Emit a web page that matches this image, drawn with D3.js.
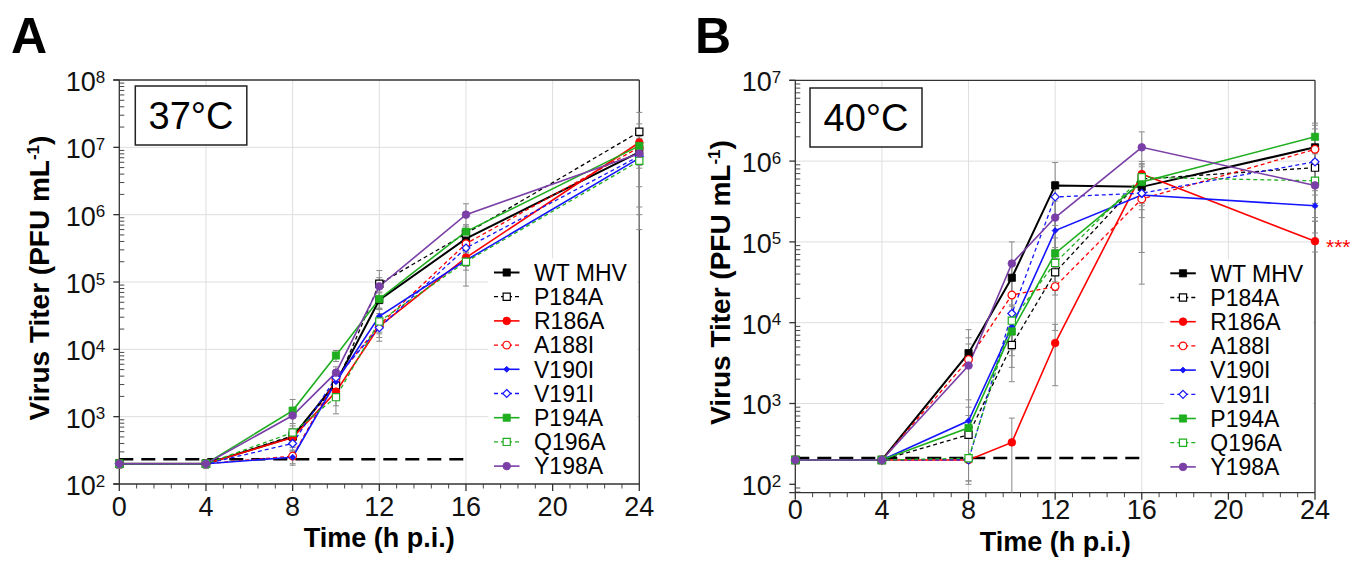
<!DOCTYPE html>
<html><head><meta charset="utf-8">
<script src="https://cdn.jsdelivr.net/npm/d3@7"></script>
<style>body{margin:0;background:#fff} text{font-family:"Liberation Sans",Arial,sans-serif}</style>
</head><body><svg id="c" width="1353" height="565"></svg>
<script>
// ---------------- DATA ----------------
const times = [0, 4, 8, 10, 12, 16, 24];
const seriesLabels = ["WT MHV","P184A","R186A","A188I","V190I","V191I","P194A","Q196A","Y198A"];
const xTicks = [0, 4, 8, 12, 16, 20, 24];
const yTicksA = [1e2, 1e3, 1e4, 1e5, 1e6, 1e7, 1e8];
const yTicksB = [1e2, 1e3, 1e4, 1e5, 1e6, 1e7];

// Panel A (37°C) – titers (PFU/mL)
const a_WT    = [200, 200, 500,  3200, 54000, 440000, 8.5e6];
const a_P184A = [200, 200, 520,  2900, 94000, 525000, 1.7e7];
const a_R186A = [200, 200, 490,  2350, 22000, 230000, 1.18e7];
const a_A188I = [200, 200, 260,  3600, 23000, 370000, 1.0e7];
const a_V190I = [200, 200, 250,  3300, 31000, 210000, 6.9e6];
const a_V191I = [200, 200, 400,  3800, 21000, 320000, 7.4e6];
const a_P194A = [200, 200, 1230, 8100, 56000, 560000, 1.05e7];
const a_Q196A = [200, 200, 580,  1950, 26000, 200000, 6.3e6];
const a_Y198A = [200, 200, 1040, 4500, 86000, 1.0e6,  8.1e6];
// Panel A standard deviations
const a_WT_sd    = [30, 30, 150, 800,  15000, 150000, 5.9e6];
const a_P184A_sd = [0, 0, 150, 1800, 54000, 150000, 1.6e7];
const a_R186A_sd = [0, 0, 100, 600,  8800,  60000,  1.05e7];
const a_A188I_sd = [0, 0, 60,  800,  6000,  100000, 3e6];
const a_V190I_sd = [0, 0, 60,  800,  8000,  60000,  2e6];
const a_V191I_sd = [0, 0, 100, 800,  6000,  80000,  2e6];
const a_P194A_sd = [0, 0, 570, 1500, 15000, 150000, 3e6];
const a_Q196A_sd = [0, 0, 150, 500,  8000,  113000, 5.7e6];
const a_Y198A_sd = [30, 30, 250, 1000, 30000, 450000, 2e6];

// Panel B (40°C) – titers (PFU/mL)
const b_WT    = [200, 200, 4200, 36000, 500000, 480000, 1.48e6];
const b_P184A = [200, 200, 410,  5300,  42000,  600000, 8.3e5];
const b_R186A = [200, 200, 200,  330,   5600,   690000, 1.02e5];
const b_A188I = [200, 200, 3500, 22000, 28000,  340000, 1.4e6];
const b_V190I = [200, 200, 610,  8900,  138000, 380000, 2.8e5];
const b_V191I = [200, 200, 200,  13000, 360000, 400000, 9.8e5];
const b_P194A = [200, 200, 500,  7800,  72000,  550000, 2.0e6];
const b_Q196A = [200, 200, 210,  10600, 55000,  630000, 5.7e5];
const b_Y198A = [200, 200, 2950, 54000, 200000, 1.48e6, 5.0e5];
// Panel B standard deviations
const b_WT_sd    = [0, 0, 4000, 20000, 460000, 200000, 1.3e6];
const b_P184A_sd = [0, 0, 300,  3440,  20000,  300000, 4e5];
const b_R186A_sd = [0, 0, 0,    330,   3940,   300000, 2.7e4];
const b_A188I_sd = [0, 0, 3000, 15000, 20000,  266000, 1.1e6];
const b_V190I_sd = [0, 0, 500,  5000,  60000,  350000, 1e5];
const b_V191I_sd = [0, 0, 0,    8000,  200000, 200000, 4e5];
const b_P194A_sd = [0, 0, 400,  5000,  40000,  300000, 9.5e5];
const b_Q196A_sd = [0, 0, 0,    6000,  30000,  300000, 3e5];
const b_Y198A_sd = [0, 0, 2500, 46000, 120000, 820000, 3e5];

const lodA = 233, lodB = 212, lodEnd = 16;

// ---------------- STYLE ----------------
const styles = [
  {color:"#000000", dash:null,  shape:"square",  fill:true,  w:2.0},
  {color:"#000000", dash:"4,3", shape:"square",  fill:false, w:1.3},
  {color:"#ff0000", dash:null,  shape:"circle",  fill:true,  w:1.6},
  {color:"#ff0000", dash:"4,3", shape:"circle",  fill:false, w:1.3},
  {color:"#1515ff", dash:null,  shape:"dot",     fill:true,  w:1.6},
  {color:"#1515ff", dash:"4,3", shape:"diamond", fill:false, w:1.3},
  {color:"#1fae1f", dash:null,  shape:"square",  fill:true,  w:1.6},
  {color:"#1fae1f", dash:"4,3", shape:"square",  fill:false, w:1.3},
  {color:"#7a3fa6", dash:null,  shape:"circle",  fill:true,  w:1.6}
];
const svg = d3.select("#c");

function markerPath(shape){
  if (shape === "square") return "M-3.6,-3.6H3.6V3.6H-3.6Z";
  if (shape === "circle") return d3.symbol(d3.symbolCircle, 46)();
  if (shape === "diamond") return "M0,-4L4,0L0,4L-4,0Z";
  return "M0,-3L3,0L0,3L-3,0Z";
}
function drawMarker(g, st, cx, cy){
  g.append("path").attr("d", markerPath(st.shape))
   .attr("transform", `translate(${cx},${cy})`)
   .attr("fill", st.fill ? st.color : "#fff")
   .attr("stroke", st.color).attr("stroke-width", st.fill ? 0.8 : 1.2);
}

function drawPanel(cfg){
  const g = svg.append("g");
  const x = d3.scaleLinear([0, 24], [cfg.x0, cfg.x1]);
  const y = d3.scaleLog(cfg.yDomain, [cfg.yBottom, cfg.yTop]);
  const yB = cfg.yBottom, yT = cfg.yTop;
  const axisColor = "#333";

  // grid
  g.selectAll(null).data(xTicks.slice(1, -1)).join("line")
    .attr("x1", d => x(d)).attr("x2", d => x(d)).attr("y1", yT).attr("y2", yB)
    .attr("stroke", "#dedede").attr("stroke-width", 1);
  g.selectAll(null).data(cfg.gridY).join("line")
    .attr("x1", cfg.x0).attr("x2", cfg.x1).attr("y1", d => y(d)).attr("y2", d => y(d))
    .attr("stroke", "#dedede").attr("stroke-width", 1);

  // frame
  g.append("line").attr("x1", cfg.x0 - 6).attr("x2", cfg.x1).attr("y1", yT).attr("y2", yT).attr("stroke", axisColor).attr("stroke-width", 1.3);
  g.append("line").attr("x1", cfg.x1).attr("x2", cfg.x1).attr("y1", yT).attr("y2", yB).attr("stroke", axisColor).attr("stroke-width", 1.3);
  g.append("line").attr("x1", cfg.x0 - 6).attr("x2", cfg.x1).attr("y1", yB).attr("y2", yB).attr("stroke", axisColor).attr("stroke-width", 1.3);
  g.append("line").attr("x1", cfg.x0).attr("x2", cfg.x0).attr("y1", yT).attr("y2", yB).attr("stroke", axisColor).attr("stroke-width", 1.3);

  // y ticks
  const lo = Math.floor(Math.log10(cfg.yDomain[0])), hi = Math.ceil(Math.log10(cfg.yDomain[1]));
  const minors = [];
  for (let d = lo; d < hi; d++) for (let k = 2; k <= 9; k++) {
    const v = k * Math.pow(10, d);
    if (v > cfg.yDomain[0] && v < cfg.yDomain[1]) minors.push(v);
  }
  g.selectAll(null).data(minors).join("line")
    .attr("x1", cfg.x0).attr("x2", cfg.x0 + 5).attr("y1", d => y(d)).attr("y2", d => y(d))
    .attr("stroke", axisColor).attr("stroke-width", 0.9);
  g.selectAll(null).data(cfg.yTicks).join("line")
    .attr("x1", cfg.x0 - 6).attr("x2", cfg.x0).attr("y1", d => y(d)).attr("y2", d => y(d))
    .attr("stroke", axisColor).attr("stroke-width", 1.3);
  cfg.yTicks.forEach(v => {
    const t = g.append("text").attr("x", cfg.x0 - 14).attr("y", y(v) + 11).attr("text-anchor", "end")
      .attr("font-size", 27).attr("fill", "#111");
    t.append("tspan").text("10");
    t.append("tspan").attr("font-size", 17).attr("dy", -8.5).text(String(Math.round(Math.log10(v))));
  });

  // x ticks
  const xMinor = d3.range(0, 24.001, 0.8).filter(v => Math.abs(v / 4 - Math.round(v / 4)) > 0.01);
  g.selectAll(null).data(xMinor).join("line")
    .attr("x1", d => x(d)).attr("x2", d => x(d)).attr("y1", yB).attr("y2", yB + 4.5)
    .attr("stroke", axisColor).attr("stroke-width", 0.9);
  g.selectAll(null).data(xTicks).join("line")
    .attr("x1", d => x(d)).attr("x2", d => x(d)).attr("y1", yB).attr("y2", yB + 7)
    .attr("stroke", axisColor).attr("stroke-width", 1.3);
  g.selectAll(null).data(xTicks).join("text")
    .attr("x", d => x(d)).attr("y", cfg.xLabelY).attr("text-anchor", "middle")
    .attr("font-size", 27).attr("fill", "#111").text(d => d);

  // LOD line
  g.append("line").attr("x1", x(0)).attr("x2", x(lodEnd)).attr("y1", y(cfg.lod)).attr("y2", y(cfg.lod))
    .attr("stroke", "#000").attr("stroke-width", 2.6).attr("stroke-dasharray", "14,8");

  // error bars
  const clampY = v => v <= cfg.yDomain[0] ? yB : y(v);
  cfg.series.forEach((s, i) => {
    s.sd.forEach((e, j) => {
      if (!e) return;
      const cx = x(times[j]);
      const yu = clampY(s.v[j] + e), yl = clampY(s.v[j] - e);
      g.append("line").attr("x1", cx).attr("x2", cx).attr("y1", yu).attr("y2", yl).attr("stroke", "#8a8a8a").attr("stroke-width", 1);
      [yu, yl].forEach(yy => { if (yy < yB - 0.5) g.append("line").attr("x1", cx - 3).attr("x2", cx + 3).attr("y1", yy).attr("y2", yy).attr("stroke", "#8a8a8a").attr("stroke-width", 1); });
    });
  });

  // series
  const line = d3.line().x((d, j) => x(times[j])).y(d => y(d));
  cfg.series.forEach((s, i) => {
    const st = styles[i];
    g.append("path").attr("d", line(s.v)).attr("fill", "none").attr("stroke", st.color)
      .attr("stroke-width", st.w).attr("stroke-dasharray", st.dash);
  });
  cfg.series.forEach((s, i) => {
    s.v.forEach((v, j) => drawMarker(g, styles[i], x(times[j]), y(v)));
  });

  // label box
  g.append("rect").attr("x", cfg.box[0]).attr("y", cfg.box[1]).attr("width", cfg.box[2]).attr("height", cfg.box[3])
    .attr("fill", "#fff").attr("stroke", "#222").attr("stroke-width", 1.5);
  g.append("text").attr("x", cfg.box[0] + cfg.box[2] / 2).attr("y", cfg.box[1] + cfg.box[3] / 2 + 13.5)
    .attr("text-anchor", "middle").attr("font-size", 38).attr("fill", "#000").text(cfg.boxText);

  // legend
  g.append("rect").attr("x", cfg.legX - 6).attr("y", cfg.legY - 14).attr("width", cfg.x1 - cfg.legX + 4)
    .attr("height", yB - cfg.legY + 13).attr("fill", "#fff");
  seriesLabels.forEach((lab, i) => {
    const st = styles[i], ly = cfg.legY + i * 24.2;
    g.append("line").attr("x1", cfg.legX).attr("x2", cfg.legX + 25.5).attr("y1", ly).attr("y2", ly)
      .attr("stroke", st.color).attr("stroke-width", st.w).attr("stroke-dasharray", st.dash);
    drawMarker(g, st, cfg.legX + 12.7, ly);
    g.append("text").attr("x", cfg.legX + 40).attr("y", ly + 8.3).attr("font-size", 23).attr("fill", "#000").text(lab);
  });

  // titles
  g.append("text").attr("transform", `translate(${cfg.yTitleX},${(yT + yB) / 2 - 4}) rotate(-90)`)
    .attr("text-anchor", "middle").attr("font-size", 28).attr("font-weight", "bold").attr("fill", "#000")
    .call(t => { t.append("tspan").text("Virus Titer (PFU mL");
                 t.append("tspan").attr("font-size", 17).attr("dy", -10).text("-1");
                 t.append("tspan").attr("dy", 10).text(")"); });
  g.append("text").attr("x", (cfg.x0 + cfg.x1) / 2).attr("y", cfg.xTitleY).attr("text-anchor", "middle")
    .attr("font-size", 27).attr("font-weight", "bold").attr("fill", "#000").text("Time (h p.i.)");
  g.append("text").attr("x", cfg.letterX).attr("y", 53).attr("font-size", 50).attr("font-weight", "bold")
    .attr("fill", "#000").text(cfg.letter);
  return {x, y, g};
}

const mk = (v, sd) => ({v, sd});
drawPanel({
  x0: 119.3, x1: 639.3, yDomain: [1e2, 1e8], yBottom: 484, yTop: 80,
  yTicks: yTicksA, gridY: [1e3, 1e4, 1e5, 1e6, 1e7], lod: lodA,
  xLabelY: 516, xTitleY: 547, yTitleX: 49, letterX: 11, letter: "A",
  box: [135.3, 86, 111.5, 59], boxText: "37°C",
  legX: 494, legY: 272.5,
  series: [mk(a_WT, a_WT_sd), mk(a_P184A, a_P184A_sd), mk(a_R186A, a_R186A_sd), mk(a_A188I, a_A188I_sd),
           mk(a_V190I, a_V190I_sd), mk(a_V191I, a_V191I_sd), mk(a_P194A, a_P194A_sd), mk(a_Q196A, a_Q196A_sd), mk(a_Y198A, a_Y198A_sd)]
});
const pB = drawPanel({
  x0: 795.3, x1: 1315, yDomain: [Math.pow(10, 1.896), 1e7], yBottom: 492.7, yTop: 80.3,
  yTicks: yTicksB, gridY: [1e3, 1e4, 1e5, 1e6], lod: lodB,
  xLabelY: 519, xTitleY: 550.5, yTitleX: 730, letterX: 695, letter: "B",
  box: [810, 88, 112, 59], boxText: "40°C",
  legX: 1170.3, legY: 273.3,
  series: [mk(b_WT, b_WT_sd), mk(b_P184A, b_P184A_sd), mk(b_R186A, b_R186A_sd), mk(b_A188I, b_A188I_sd),
           mk(b_V190I, b_V190I_sd), mk(b_V191I, b_V191I_sd), mk(b_P194A, b_P194A_sd), mk(b_Q196A, b_Q196A_sd), mk(b_Y198A, b_Y198A_sd)]
});
// significance marker next to R186A at 24 h
pB.g.append("text").attr("x", pB.x(24) + 11).attr("y", pB.y(b_R186A[6]) + 13)
  .attr("font-size", 21).attr("fill", "#ff0000").text("***");
</script></body></html>
